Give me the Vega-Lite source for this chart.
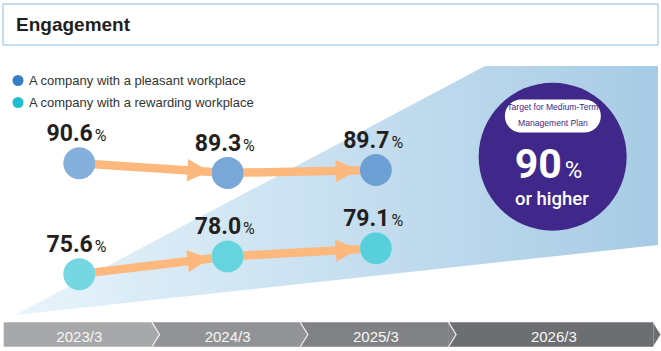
{
  "$schema": "https://vega.github.io/schema/vega-lite/v6.json",
  "width": 661,
  "height": 351,
  "autosize": {"type": "none"},
  "padding": 0,
  "background": "white",
  "config": {"view": {"stroke": null}},
  "datasets": {
    "points": [
      {"series": "A company with a pleasant workplace", "period": "2023/3", "t": 0, "value": 90.6},
      {"series": "A company with a pleasant workplace", "period": "2024/3", "t": 1, "value": 89.3},
      {"series": "A company with a pleasant workplace", "period": "2025/3", "t": 2, "value": 89.7},
      {"series": "A company with a rewarding workplace", "period": "2023/3", "t": 0, "value": 75.6},
      {"series": "A company with a rewarding workplace", "period": "2024/3", "t": 1, "value": 78.0},
      {"series": "A company with a rewarding workplace", "period": "2025/3", "t": 2, "value": 79.1}
    ],
    "periods": [
      {"period": "2023/3", "t": 0, "t0": -0.51, "t1": 0.49},
      {"period": "2024/3", "t": 1, "t0": 0.49, "t1": 1.49},
      {"period": "2025/3", "t": 2, "t0": 1.49, "t1": 2.49},
      {"period": "2026/3", "t": 3.2, "t0": 2.49, "t1": 3.872}
    ],
    "target": [
      {"period": "2026/3", "t": 3.2, "value": 90}
    ],
    "backdrop": [
      {"t": -0.4336, "top": 70.07, "bottom": 70.07},
      {"t": 2.7357, "top": 103.77, "bottom": 77.0},
      {"t": 3.9022, "top": 103.77, "bottom": 79.54}
    ]
  },
  "layer": [
    {
      "data": {"values": [{}]},
      "mark": {"type": "rect", "fill": "white", "stroke": "#8fbbe0", "strokeWidth": 1},
      "encoding": {
        "x": {"datum": -0.5145, "type": "quantitative", "scale": {"domain": [-0.5347, 3.9225], "nice": false, "zero": false}, "axis": null},
        "x2": {"datum": 3.9022},
        "y": {"datum": 112.159, "type": "quantitative", "scale": {"domain": [65.2, 112.7], "nice": false, "zero": false}, "axis": null},
        "y2": {"datum": 106.61}
      }
    },
    {
      "data": {"values": [{}]},
      "mark": {"type": "text", "text": "Engagement", "font": "Liberation Sans", "fontWeight": "bold", "fontSize": 19, "align": "left", "baseline": "alphabetic", "color": "#231f20"},
      "encoding": {
        "x": {"datum": -0.4268, "type": "quantitative"},
        "y": {"datum": 108.545, "type": "quantitative"}
      }
    },
    {
      "data": {"name": "backdrop"},
      "mark": {"type": "area", "color": {"gradient": "linear", "x1": 0, "x2": 1, "y1": 0, "y2": 0, "stops": [{"offset": 0, "color": "#e8f4fb"}, {"offset": 1, "color": "#a7cbe5"}]}, "opacity": 1},
      "encoding": {
        "x": {"field": "t", "type": "quantitative"},
        "y": {"field": "top", "type": "quantitative"},
        "y2": {"field": "bottom"}
      }
    },
    {
      "data": {"name": "periods"},
      "mark": {"type": "bar", "opacity": 1},
      "encoding": {
        "x": {"field": "t0", "type": "quantitative"},
        "x2": {"field": "t1"},
        "y": {"datum": 69.08, "type": "quantitative"},
        "y2": {"datum": 65.78},
        "fill": {"field": "period", "type": "nominal", "scale": {"domain": ["2023/3", "2024/3", "2025/3", "2026/3"], "range": ["#a7a8aa", "#929396", "#808184", "#6d6e71"]}, "legend": null}
      }
    },
    {
      "data": {"name": "periods"},
      "mark": {"type": "point", "shape": "M0,-1L0.62,0L0,1", "filled": true, "size": 595, "opacity": 1, "stroke": "white", "strokeWidth": 1.2, "strokeOpacity": 0.9},
      "encoding": {
        "x": {"field": "t1", "type": "quantitative"},
        "y": {"datum": 67.43, "type": "quantitative"},
        "fill": {"field": "period", "type": "nominal", "legend": null}
      }
    },
    {
      "data": {"name": "periods"},
      "mark": {"type": "text", "font": "Liberation Sans", "fontSize": 15, "align": "center", "baseline": "alphabetic", "color": "#f7f7f7"},
      "encoding": {
        "x": {"field": "t", "type": "quantitative"},
        "y": {"datum": 66.46, "type": "quantitative"},
        "text": {"field": "period"}
      }
    },
    {
      "data": {"name": "points"},
      "mark": {"type": "line", "color": "#fdb97d", "strokeWidth": 8.5, "strokeCap": "butt"},
      "encoding": {
        "x": {"field": "t", "type": "quantitative"},
        "y": {"field": "value", "type": "quantitative"},
        "detail": {"field": "series"}
      }
    },
    {
      "data": {"name": "points"},
      "transform": [{"filter": "datum.series == 'A company with a pleasant workplace' && datum.t == 1"}],
      "mark": {"type": "point", "shape": "M-1,-1L1,0L-1,1Z", "filled": true, "size": 500, "opacity": 1, "color": "#fdb97d", "angle": 3.86, "xOffset": -29, "yOffset": -1.96},
      "encoding": {"x": {"field": "t", "type": "quantitative"}, "y": {"field": "value", "type": "quantitative"}}
    },
    {
      "data": {"name": "points"},
      "transform": [{"filter": "datum.series == 'A company with a pleasant workplace' && datum.t == 2"}],
      "mark": {"type": "point", "shape": "M-1,-1L1,0L-1,1Z", "filled": true, "size": 500, "opacity": 1, "color": "#fdb97d", "angle": -1.27, "xOffset": -29, "yOffset": 0.64},
      "encoding": {"x": {"field": "t", "type": "quantitative"}, "y": {"field": "value", "type": "quantitative"}}
    },
    {
      "data": {"name": "points"},
      "transform": [{"filter": "datum.series == 'A company with a rewarding workplace' && datum.t == 1"}],
      "mark": {"type": "point", "shape": "M-1,-1L1,0L-1,1Z", "filled": true, "size": 500, "opacity": 1, "color": "#fdb97d", "angle": -6.77, "xOffset": -29, "yOffset": 3.44},
      "encoding": {"x": {"field": "t", "type": "quantitative"}, "y": {"field": "value", "type": "quantitative"}}
    },
    {
      "data": {"name": "points"},
      "transform": [{"filter": "datum.series == 'A company with a rewarding workplace' && datum.t == 2"}],
      "mark": {"type": "point", "shape": "M-1,-1L1,0L-1,1Z", "filled": true, "size": 500, "opacity": 1, "color": "#fdb97d", "angle": -3.24, "xOffset": -29, "yOffset": 1.64},
      "encoding": {"x": {"field": "t", "type": "quantitative"}, "y": {"field": "value", "type": "quantitative"}}
    },
    {
      "data": {"name": "points"},
      "mark": {"type": "point", "shape": "circle", "filled": true, "size": 1024, "opacity": 1, "color": "white"},
      "encoding": {"x": {"field": "t", "type": "quantitative"}, "y": {"field": "value", "type": "quantitative"}}
    },
    {
      "data": {"name": "points"},
      "mark": {"type": "point", "shape": "circle", "filled": true, "size": 1024, "strokeWidth": 0},
      "encoding": {
        "x": {"field": "t", "type": "quantitative"},
        "y": {"field": "value", "type": "quantitative"},
        "color": {
          "field": "series", "type": "nominal",
          "scale": {"domain": ["A company with a pleasant workplace", "A company with a rewarding workplace"], "range": ["#3a7fc5", "#1ebfd0"]},
          "legend": {"title": null, "orient": "none", "legendX": 11.5, "legendY": 74, "symbolType": "circle", "symbolSize": 121, "symbolStrokeWidth": 0, "symbolOpacity": 1, "labelFont": "Liberation Sans", "labelFontSize": 13, "labelColor": "#333333", "labelOffset": 4.5, "rowPadding": 8, "padding": 0, "labelLimit": 400}
        },
        "opacity": {"field": "period", "type": "ordinal", "scale": {"domain": ["2023/3", "2024/3", "2025/3"], "range": [0.62, 0.74, 0.84]}, "legend": null}
      }
    },
    {
      "data": {"name": "points"},
      "mark": {"type": "text", "font": "Roboto", "fontWeight": "bold", "fontSize": 23, "align": "right", "baseline": "alphabetic", "dx": 13.5, "dy": -22, "color": "#231f20"},
      "encoding": {
        "x": {"field": "t", "type": "quantitative"},
        "y": {"field": "value", "type": "quantitative"},
        "text": {"field": "value", "type": "quantitative", "format": ".1f"}
      }
    },
    {
      "data": {"name": "points"},
      "mark": {"type": "text", "text": "%", "font": "Roboto", "fontSize": 16, "align": "left", "baseline": "alphabetic", "dx": 15.5, "dy": -22, "color": "#231f20"},
      "encoding": {
        "x": {"field": "t", "type": "quantitative"},
        "y": {"field": "value", "type": "quantitative"}
      }
    },
    {
      "data": {"name": "target"},
      "mark": {"type": "point", "shape": "circle", "filled": true, "size": 21904, "opacity": 1, "color": "#3f288a", "xOffset": -1.2, "yOffset": -11},
      "encoding": {"x": {"field": "t", "type": "quantitative"}, "y": {"field": "value", "type": "quantitative"}}
    },
    {
      "data": {"name": "target"},
      "mark": {"type": "point", "shape": "M-0.656,-0.344L0.656,-0.344A0.344,0.344 0 0 1 0.656,0.344L-0.656,0.344A0.344,0.344 0 0 1 -0.656,-0.344Z", "filled": true, "size": 9216, "opacity": 1, "color": "white", "xOffset": -1, "yOffset": -51.7},
      "encoding": {"x": {"field": "t", "type": "quantitative"}, "y": {"field": "value", "type": "quantitative"}}
    },
    {
      "data": {"name": "target"},
      "mark": {"type": "text", "text": ["Target for Medium-Term", "Management Plan"], "font": "Liberation Sans", "fontSize": 8.6, "lineHeight": 15.5, "align": "center", "baseline": "alphabetic", "dx": -1, "dy": -57.5, "color": "#3f288a"},
      "encoding": {"x": {"field": "t", "type": "quantitative"}, "y": {"field": "value", "type": "quantitative"}}
    },
    {
      "data": {"name": "target"},
      "mark": {"type": "text", "font": "Roboto", "fontWeight": "bold", "fontSize": 41, "align": "right", "baseline": "alphabetic", "dx": 8, "dy": 10.6, "color": "white"},
      "encoding": {
        "x": {"field": "t", "type": "quantitative"},
        "y": {"field": "value", "type": "quantitative"},
        "text": {"field": "value", "type": "quantitative", "format": "d"}
      }
    },
    {
      "data": {"name": "target"},
      "mark": {"type": "text", "text": "%", "font": "Roboto", "fontSize": 24, "align": "left", "baseline": "alphabetic", "dx": 11, "dy": 10.6, "color": "white"},
      "encoding": {"x": {"field": "t", "type": "quantitative"}, "y": {"field": "value", "type": "quantitative"}}
    },
    {
      "data": {"name": "target"},
      "mark": {"type": "text", "text": "or higher", "font": "Roboto", "fontWeight": 500, "fontSize": 18.5, "align": "center", "baseline": "alphabetic", "dx": -2, "dy": 37.3, "color": "white"},
      "encoding": {"x": {"field": "t", "type": "quantitative"}, "y": {"field": "value", "type": "quantitative"}}
    }
  ]
}
